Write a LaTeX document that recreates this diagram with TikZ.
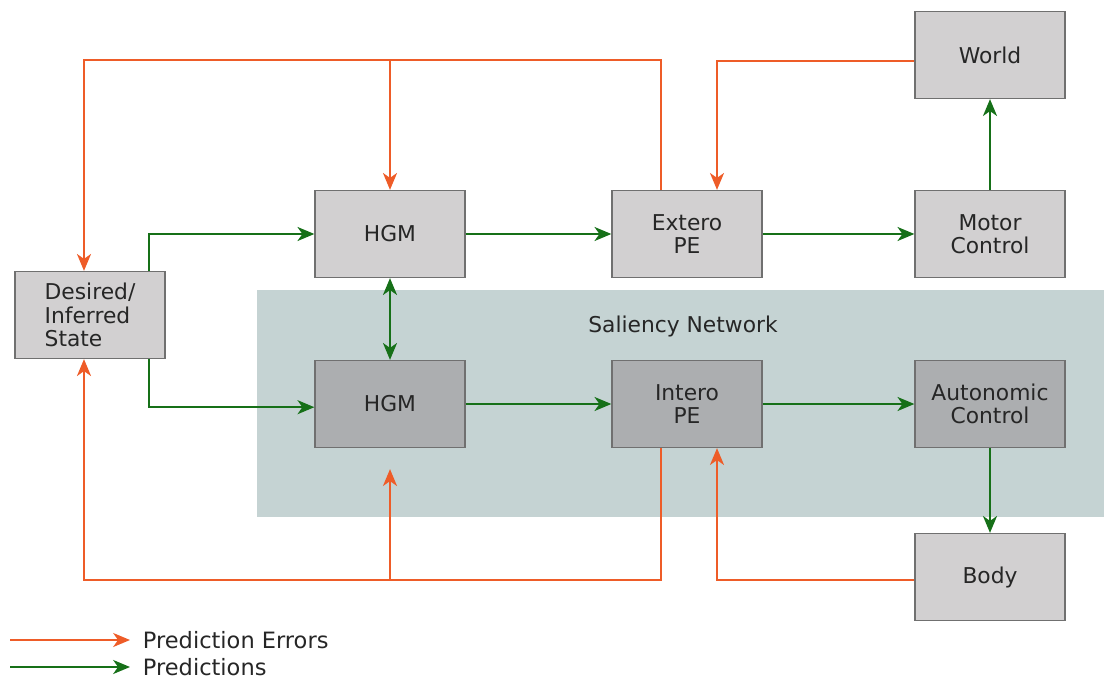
\documentclass[tikz,border=0pt]{standalone}
\usepackage{fontspec}
\setmainfont{DejaVu Sans}
\usetikzlibrary{arrows.meta,positioning}

\definecolor{errcol}{RGB}{238,92,40}
\definecolor{predcol}{RGB}{22,112,24}
\definecolor{boxlight}{RGB}{210,208,209}
\definecolor{boxdark}{RGB}{172,174,176}
\definecolor{boxline}{RGB}{112,112,112}
\definecolor{salcol}{RGB}{197,211,211}

\tikzset{
  block/.style={draw=boxline, line width=0.9pt, fill=boxlight, minimum width=3.75cm,
    minimum height=2.175cm, align=center, text=black!85,
    font=\fontsize{15.5}{16.5}\selectfont},
  darkblock/.style={block, fill=boxdark},
  tip/.style={-{Stealth[length=12pt,width=10pt,inset=3.5pt]}},
  err/.style={draw=errcol, line width=1.3pt, tip},
  pred/.style={draw=predcol, line width=1.3pt, tip},
  legend/.style={font=\fontsize{16}{18}\selectfont, text=black!85, anchor=west}
}

\begin{document}
\begin{tikzpicture}[x=0.025cm, y=-0.025cm]
\useasboundingbox (0,0) rectangle (1104,682);

% Saliency network background
\fill[salcol] (257,290) rectangle (1104,517);
\node[text=black!85, font=\fontsize{15.5}{16.5}\selectfont] (saliency) at (683,326) {Saliency Network};

% Blocks
\node[block, align=left] (desired) at (90,315) {Desired/\\Inferred\\State};
\node[block] (hgmext) at (390,234) {HGM};
\node[block] (extpe) at (687,234) {Extero\\PE};
\node[block] (motor) at (990,234) {Motor\\Control};
\node[block] (world) at (990,55) {World};
\node[darkblock] (hgmint) at (390,404) {HGM};
\node[darkblock] (intpe) at (687,404) {Intero\\PE};
\node[darkblock] (auto) at (990,404) {Autonomic\\Control};
\node[block] (body) at (990,577) {Body};

% Rails for the error lines
\coordinate (toprail) at (0,60);
\coordinate (botrail) at (0,580);
\coordinate (dsin) at ([xshift=-0.15cm]desired.north);
\coordinate (dsout) at ([xshift=-0.15cm]desired.south);
\coordinate (gapend) at ([yshift=-0.525cm]hgmint.south);

% Predictions
\draw[pred] ([xshift=-0.425cm]desired.north east) |- (hgmext.west);
\draw[pred] ([xshift=-0.425cm]desired.south east) |- ([yshift=-0.08cm]hgmint.west);
\draw[pred, {Stealth[length=12pt,width=10pt,inset=3.5pt]}-{Stealth[length=12pt,width=10pt,inset=3.5pt]}] (hgmext) -- (hgmint);
\draw[pred] (hgmext) -- (extpe);
\draw[pred] (extpe) -- (motor);
\draw[pred] (motor) -- (world);
\draw[pred] (hgmint) -- (intpe);
\draw[pred] (intpe) -- (auto);
\draw[pred] (auto) -- (body);

% Prediction errors
\draw[err] ([xshift=-0.64cm]extpe.north) |- (dsin |- toprail) -- (dsin);
\draw[err] (hgmext.north |- toprail) -- (hgmext.north);
\draw[err] ([yshift=-0.14cm]world.west) -| ([xshift=0.75cm]extpe.north);
\draw[err] ([xshift=-0.64cm]intpe.south) |- (dsout |- botrail) -- (dsout);
\draw[err] (hgmint.south |- botrail) -- (gapend);
\draw[err] ([yshift=-0.08cm]body.west) -| ([xshift=0.75cm]intpe.south);

% Legend
\node[legend] (lerr) at (138,640) {Prediction Errors};
\node[legend] (lpred) at (138,667) {Predictions};
\coordinate (lerrstart) at (10,640);
\coordinate (lpredstart) at (10,667);
\draw[err] (lerrstart) -- ([xshift=-0.2cm]lerr.west);
\draw[pred] (lpredstart) -- ([xshift=-0.2cm]lpred.west);
\end{tikzpicture}
\end{document}
